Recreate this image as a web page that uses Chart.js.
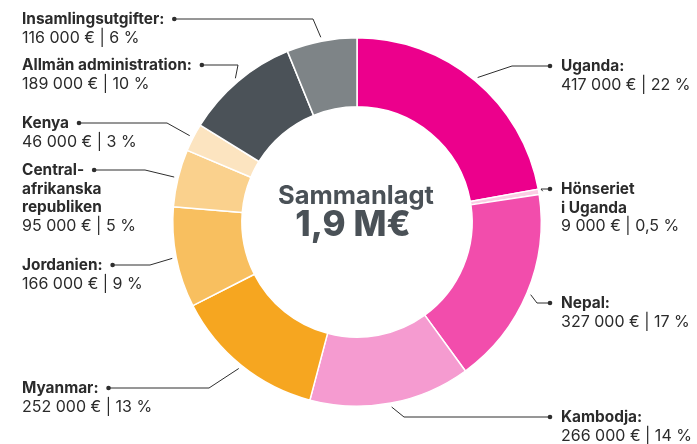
<!DOCTYPE html>
<html>
<head>
<meta charset="utf-8">
<script src="https://cdn.jsdelivr.net/npm/chart.js@4.4.1/dist/chart.umd.min.js"></script>
<style>
  html, body { margin: 0; padding: 0; background: #fff; }
  #wrap { width: 697px; height: 444px; position: relative; }
</style>
</head>
<body>
<div id="wrap"><canvas id="donut" width="697" height="444"></canvas></div>
<script>
// data, clockwise from the top
const categories = [
  ["Uganda:"],
  ["Hönseriet", "i Uganda"],
  ["Nepal:"],
  ["Kambodja:"],
  ["Myanmar:"],
  ["Jordanien:"],
  ["Central-", "afrikanska", "republiken"],
  ["Kenya"],
  ["Allmän administration:"],
  ["Insamlingsutgifter:"],
];
const amounts = [417000, 9000, 327000, 266000, 252000, 166000, 95000, 46000, 189000, 116000];
const shares = ["22", "0,5", "17", "14", "13", "9", "5", "3", "10", "6"];
const totalLabel = ["Sammanlagt", "1,9 M€"];

const colors = [
  "#EC008C", "#FBCDE4", "#F24DAC", "#F59BD0", "#F6A620",
  "#F8BF5F", "#FAD18D", "#FCE4C0", "#4B5258", "#7E8487",
];

// label placement (side, baseline of first line, elbow x)
const labelPos = [
  { side: "r", y: 71, elbow: 512 },
  { side: "r", y: 194, elbow: 541 },
  { side: "r", y: 308, elbow: 537 },
  { side: "r", y: 422, elbow: 404 },
  { side: "l", y: 393, elbow: 209 },
  { side: "l", y: 270, elbow: 150 },
  { side: "l", y: 175, elbow: 145 },
  { side: "l", y: 128, elbow: 167 },
  { side: "l", y: 70, elbow: 238 },
  { side: "l", y: 24, elbow: 313 },
];

function fmtAmount(v) {
  return String(v).replace(/\B(?=(\d{3})+(?!\d))/g, " ") + " €";
}

const FONT = "Inter, 'Open Sans', sans-serif";

const labelPlugin = {
  id: "leaderLabels",
  afterDraw(chart) {
    const ctx = chart.ctx;
    const arcs = chart.getDatasetMeta(0).data;
    ctx.save();

    // centre text
    const c = arcs[0];
    ctx.fillStyle = "#4A5157";
    ctx.textAlign = "center";
    ctx.textBaseline = "alphabetic";
    ctx.font = "bold 25.5px " + FONT;
    ctx.fillText(totalLabel[0], c.x - 1, 204);
    ctx.font = "800 35px " + FONT;
    ctx.fillText(totalLabel[1], c.x - 4, 236);

    arcs.forEach((arc, i) => {
      const p = labelPos[i];
      const lines = categories[i];
      const mid = (arc.startAngle + arc.endAngle) / 2;
      const r = arc.outerRadius + 4;
      const ax = arc.x + Math.cos(mid) * r;
      const ay = arc.y + Math.sin(mid) * r;

      ctx.font = "bold 15.4px " + FONT;
      let textX, dotX;
      if (p.side === "l") {
        textX = 22;
        dotX = textX + ctx.measureText(lines[0]).width + 10;
      } else {
        textX = 561;
        dotX = textX - 11;
      }
      const dotY = p.y - 5;

      // leader line
      ctx.strokeStyle = "#2E2E2E";
      ctx.lineWidth = 1;
      ctx.beginPath();
      ctx.moveTo(ax, ay);
      ctx.lineTo(p.elbow, dotY);
      ctx.lineTo(dotX, dotY);
      ctx.stroke();
      ctx.fillStyle = "#2E2E2E";
      ctx.beginPath();
      ctx.arc(dotX, dotY, 2.3, 0, Math.PI * 2);
      ctx.fill();

      // text
      ctx.textAlign = "left";
      ctx.fillStyle = "#2B2B2B";
      let y = p.y;
      lines.forEach((ln) => {
        ctx.fillText(ln, textX, y);
        y += 18.7;
      });
      ctx.font = "16px " + FONT;
      ctx.fillText(fmtAmount(amounts[i]) + " | " + shares[i] + " %", textX, y);
    });
    ctx.restore();
  },
};

const ctx = document.getElementById("donut").getContext("2d");
new Chart(ctx, {
  type: "doughnut",
  data: {
    labels: categories.map((l) => l.join(" ")),
    datasets: [
      {
        data: amounts,
        backgroundColor: colors,
        borderColor: "#ffffff",
        borderWidth: 1.5,
      },
    ],
  },
  options: {
    responsive: false,
    animation: false,
    cutout: "62.5%",
    layout: { padding: { top: 37, bottom: 37, left: 172, right: 155 } },
    plugins: {
      legend: { display: false },
      tooltip: { enabled: false },
    },
  },
  plugins: [labelPlugin],
});
</script>
</body>
</html>
